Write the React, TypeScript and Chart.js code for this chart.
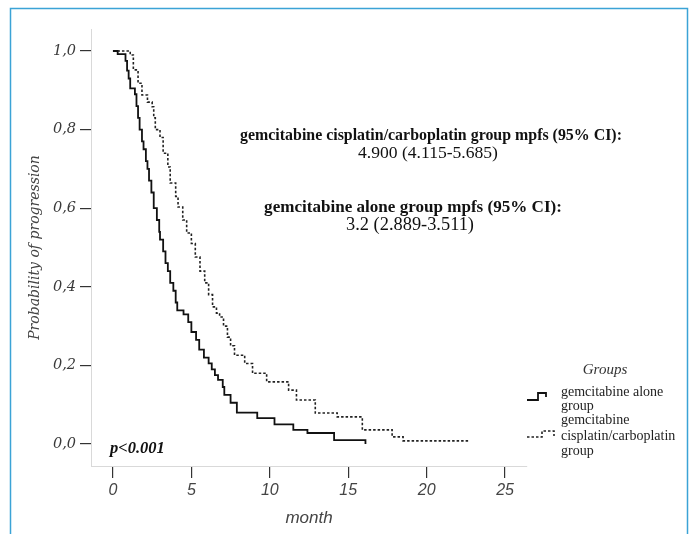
import React, { useEffect, useRef } from 'react';
import { Chart, registerables } from 'chart.js';

Chart.register(...registerables);

// ---- data ----
const aloneTimes = [0, 0.3, 0.8, 0.9, 1.0, 1.1, 1.4, 1.5, 1.6, 1.7, 1.85, 1.95, 2.1, 2.2, 2.3, 2.45, 2.6, 2.8, 2.95, 3.0, 3.2, 3.35, 3.5, 3.65, 3.85, 4.0, 4.1, 4.5, 4.8, 5.0, 5.3, 5.5, 5.8, 6.1, 6.3, 6.5, 6.7, 7.0, 7.1, 7.5, 7.9, 9.2, 10.3, 11.5, 12.4, 14.1, 16.1];
const aloneSurv = [1.0, 0.992, 0.975, 0.95, 0.93, 0.905, 0.89, 0.86, 0.83, 0.8, 0.77, 0.75, 0.72, 0.7, 0.67, 0.64, 0.6, 0.57, 0.54, 0.52, 0.49, 0.46, 0.44, 0.41, 0.39, 0.36, 0.34, 0.33, 0.31, 0.285, 0.265, 0.24, 0.22, 0.205, 0.19, 0.175, 0.163, 0.145, 0.125, 0.105, 0.08, 0.066, 0.05, 0.036, 0.028, 0.01, 0.0];

const comboTimes = [0, 1.1, 1.3, 1.6, 1.85, 2.2, 2.5, 2.6, 2.7, 3.0, 3.2, 3.5, 3.65, 4.0, 4.15, 4.45, 4.7, 5.0, 5.25, 5.55, 5.85, 6.1, 6.35, 6.6, 6.8, 7.05, 7.3, 7.5, 7.75, 8.4, 8.9, 9.8, 11.2, 11.7, 12.9, 14.3, 15.9, 17.8, 18.5, 22.7];
const comboSurv = [1.0, 0.99, 0.952, 0.918, 0.888, 0.87, 0.858, 0.83, 0.8, 0.78, 0.74, 0.705, 0.664, 0.63, 0.603, 0.57, 0.537, 0.51, 0.476, 0.44, 0.41, 0.38, 0.349, 0.333, 0.323, 0.3, 0.272, 0.25, 0.226, 0.205, 0.18, 0.158, 0.137, 0.112, 0.079, 0.069, 0.036, 0.018, 0.008, 0.008];

const xTicks = [0, 5, 10, 15, 20, 25];
const xTickLabels = ['0', '5', '10', '15', '20', '25'];
const yTicks = [0, 0.2, 0.4, 0.6, 0.8, 1.0];
const yTickLabels = ['0,0', '0,2', '0,4', '0,6', '0,8', '1,0'];

const seriesNames = ['gemcitabine alone group', 'gemcitabine cisplatin/carboplatin group'];
const legendTitle = 'Groups';
const legendLines = [['gemcitabine alone', 'group'], ['gemcitabine', 'cisplatin/carboplatin', 'group']];
const xTitle = 'month';
const yTitle = 'Probability of progression';
const pValueText = 'p<0.001';
const comboNote = ['gemcitabine cisplatin/carboplatin group mpfs (95% CI):', '4.900 (4.115-5.685)'];
const aloneNote = ['gemcitabine alone group mpfs (95% CI):', '3.2 (2.889-3.511)'];

const SERIF = '"Liberation Serif", "Times New Roman", serif';
const DSERIF = '"DejaVu Serif", serif';
const SANS = '"Liberation Sans", Arial, sans-serif';

function fitText(ctx: CanvasRenderingContext2D, text: string, style: string, weight: string, family: string, targetW: number, cx: number, cy: number) {
  ctx.font = `${style} ${weight} 16px ${family}`;
  const w = ctx.measureText(text).width;
  const size = (16 * targetW) / w;
  ctx.font = `${style} ${weight} ${size.toFixed(2)}px ${family}`;
  ctx.textAlign = 'center';
  ctx.textBaseline = 'middle';
  ctx.fillText(text, cx, cy);
}

const decorPlugin = {
  id: 'decor',
  beforeDraw(chart: any) {
    const ctx = chart.ctx;
    ctx.save();
    ctx.fillStyle = '#ffffff';
    ctx.fillRect(0, 0, chart.width, chart.height);
    ctx.restore();
  },
  afterDraw(chart: any) {
    const ctx: CanvasRenderingContext2D = chart.ctx;
    ctx.save();
    // outer blue frame
    ctx.strokeStyle = '#3ba3d6';
    ctx.lineWidth = 1.5;
    ctx.strokeRect(10.5, 8.5, 677, 600);

    // annotations
    ctx.fillStyle = '#111';
    fitText(ctx, comboNote[0], 'normal', 'bold', SERIF, 382, 431, 136);
    fitText(ctx, comboNote[1], 'normal', 'normal', SERIF, 140, 428, 153);
    fitText(ctx, aloneNote[0], 'normal', 'bold', SERIF, 298, 413, 208);
    fitText(ctx, aloneNote[1], 'normal', 'normal', SERIF, 128, 410, 225);

    // p value
    ctx.font = `italic bold 16.5px ${SERIF}`;
    ctx.textAlign = 'left';
    ctx.textBaseline = 'middle';
    ctx.fillStyle = '#111';
    ctx.fillText(pValueText, 110, 449);

    // legend
    ctx.fillStyle = '#333';
    ctx.font = `italic normal 15px ${SERIF}`;
    ctx.textAlign = 'center';
    ctx.fillText(legendTitle, 605, 370);

    ctx.fillStyle = '#222';
    ctx.font = `normal normal 14px ${SERIF}`;
    ctx.textAlign = 'left';
    const rows = [[392, 406], [420, 436, 451]];
    legendLines.forEach((lines, i) => {
      lines.forEach((ln, j) => ctx.fillText(ln, 561, rows[i][j]));
    });

    const ds0 = chart.data.datasets[0];
    const ds1 = chart.data.datasets[1];
    // solid symbol
    ctx.strokeStyle = ds0.borderColor;
    ctx.lineWidth = ds0.borderWidth;
    ctx.setLineDash([]);
    ctx.beginPath();
    ctx.moveTo(527, 400);
    ctx.lineTo(538, 400);
    ctx.lineTo(538, 393);
    ctx.lineTo(546, 393);
    ctx.lineTo(546, 397);
    ctx.stroke();
    // dotted symbol
    ctx.strokeStyle = ds1.borderColor;
    ctx.lineWidth = ds1.borderWidth;
    ctx.setLineDash(ds1.borderDash);
    ctx.beginPath();
    ctx.moveTo(527, 437);
    ctx.lineTo(542, 437);
    ctx.lineTo(542, 431);
    ctx.lineTo(554, 431);
    ctx.lineTo(554, 436);
    ctx.stroke();
    ctx.restore();
  },
};

export default function App() {
  const ref = useRef<HTMLCanvasElement | null>(null);
  useEffect(() => {
    if (!ref.current) return;
    const chart = new Chart(ref.current, {
      type: 'line',
      data: {
        datasets: [
          {
            label: seriesNames[0],
            data: aloneTimes.map((t, i) => ({ x: t, y: aloneSurv[i] })),
            borderColor: '#111111',
            borderWidth: 1.8,
            stepped: 'before',
            pointRadius: 0,
            fill: false,
          },
          {
            label: seriesNames[1],
            data: comboTimes.map((t, i) => ({ x: t, y: comboSurv[i] })),
            borderColor: '#222222',
            borderWidth: 1.6,
            borderDash: [2.5, 2],
            stepped: 'before',
            pointRadius: 0,
            fill: false,
          },
        ] as any,
      },
      options: {
        animation: false,
        responsive: false,
        maintainAspectRatio: false,
        events: [],
        layout: { padding: { left: 0, top: 29, right: 169, bottom: 0 } },
        plugins: { legend: { display: false }, tooltip: { enabled: false } },
        scales: {
          x: {
            type: 'linear',
            min: -1.4,
            max: 26.4,
            afterBuildTicks: (s: any) => {
              s.ticks = xTicks.map((v) => ({ value: v }));
            },
            afterFit: (s: any) => {
              s.height = 68;
            },
            grid: { drawOnChartArea: false, drawTicks: true, tickLength: 12, color: '#333', lineWidth: 1.2 },
            border: { display: true, color: '#d9d9d9', width: 1 },
            ticks: {
              autoSkip: false,
              maxRotation: 0,
              padding: 3,
              color: '#444',
              font: { family: SANS, size: 16, style: 'italic' },
              callback: (v: any) => {
                const i = xTicks.indexOf(Number(v));
                return i >= 0 ? xTickLabels[i] : '';
              },
            },
            title: {
              display: true,
              text: xTitle,
              color: '#444',
              font: { family: SANS, size: 17, style: 'italic' },
              padding: { top: 0, bottom: 6 },
            },
          },
          y: {
            type: 'linear',
            min: -0.056,
            max: 1.056,
            afterBuildTicks: (s: any) => {
              s.ticks = yTicks.map((v) => ({ value: v }));
            },
            afterFit: (s: any) => {
              s.width = 91;
            },
            grid: { drawOnChartArea: false, drawTicks: true, tickLength: 11, color: '#333', lineWidth: 1.2 },
            border: { display: true, color: '#d9d9d9', width: 1 },
            ticks: {
              autoSkip: false,
              padding: 4,
              color: '#3a3a3a',
              font: { family: DSERIF, size: 14.5, style: 'italic' },
              callback: (v: any) => {
                const i = yTicks.findIndex((t) => Math.abs(t - Number(v)) < 1e-9);
                return i >= 0 ? yTickLabels[i] : '';
              },
            },
            title: {
              display: true,
              text: yTitle,
              color: '#444',
              font: { family: DSERIF, size: 14, style: 'italic' },
              padding: { top: 27, bottom: 0 },
            },
          },
        },
      } as any,
      plugins: [decorPlugin],
    });
    return () => chart.destroy();
  }, []);
  return (
    <div style={{ position: 'absolute', left: 0, top: 0, width: 696, height: 534 }}>
      <canvas ref={ref} width={696} height={534} style={{ display: 'block', width: 696, height: 534 }} />
    </div>
  );
}
